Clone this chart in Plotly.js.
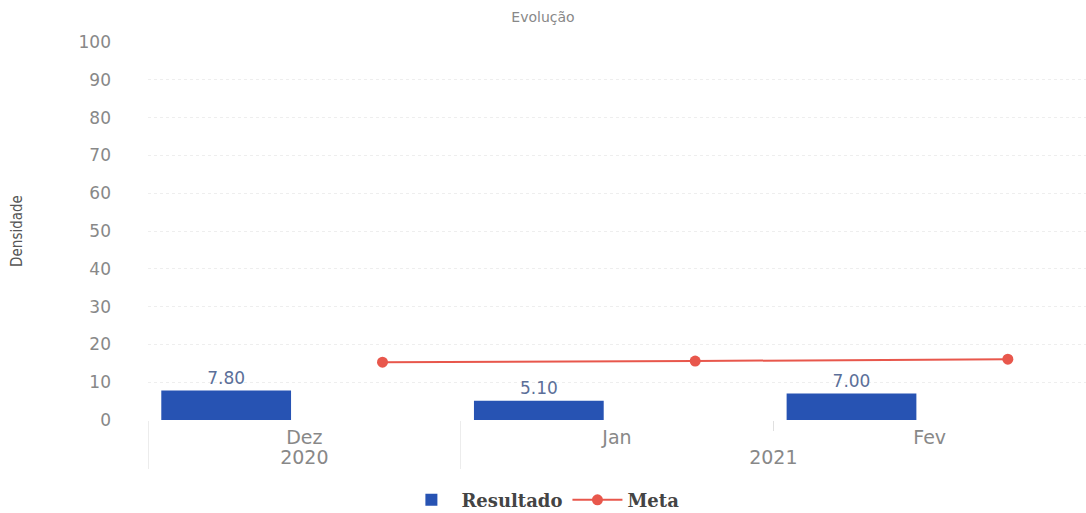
<!DOCTYPE html>
<html>
<head>
<meta charset="utf-8">
<script src="https://cdn.plot.ly/plotly-3.0.1.min.js"></script>
<style>html,body{margin:0;padding:0;background:#fff;}#chart{width:1086px;height:513px;}</style>
</head>
<body>
<div id="chart"></div>
<script>
const years = ["2020", "2021", "2021"];
const months = ["Dez", "Jan", "Fev"];
const resultado = [7.80, 5.10, 7.00];
const meta = [15.3, 15.6, 16.1];
const yTicks = [0, 10, 20, 30, 40, 50, 60, 70, 80, 90, 100];

const traces = [
  {
    type: "bar",
    name: "Resultado",
    x: [years, months],
    y: resultado,
    offsetgroup: "a",
    marker: {color: "#2753b3"},
    text: resultado.map(v => v.toFixed(2)),
    textposition: "outside",
    cliponaxis: false,
    textfont: {family: "DejaVu Sans", size: 17, color: "#5b6f99"}
  },
  {
    type: "scatter",
    mode: "lines+markers",
    name: "Meta",
    x: [years, months],
    y: meta,
    offsetgroup: "b",
    line: {color: "#e8574c", width: 2},
    marker: {color: "#e8574c", size: 11}
  }
];

const layout = {
  width: 1086, height: 513,
  margin: {l: 148, r: 0, t: 42, b: 93, autoexpand: false},
  paper_bgcolor: "#fff", plot_bgcolor: "#fff",
  barmode: "group", scattermode: "group",
  bargap: 0, bargroupgap: 0.17,
  title: {text: "Evolução", xref: "container", x: 0.5, xanchor: "center", y: 0.966, yanchor: "middle",
          font: {family: "DejaVu Sans", size: 14, color: "#888"}},
  showlegend: true,
  legend: {orientation: "h", x: 0.421, xanchor: "center", y: -0.212, yanchor: "middle",
           itemwidth: 50,
           font: {family: "DejaVu Serif", size: 18, color: "#444", weight: "bold"}},
  xaxis: {
    type: "multicategory",
    automargin: false,
    tickfont: {family: "DejaVu Sans", size: 19, color: "#888"},
    ticklabelstandoff: 4,
    showgrid: false, showline: false, zeroline: false,
    ticks: "outside", tickcolor: "#e0e0e0", ticklen: 10, showdividers: true, dividercolor: "#ececec"
  },
  yaxis: {
    range: [0, 100],
    automargin: false,
    tickvals: yTicks,
    ticktext: yTicks.map(String),
    tickfont: {family: "DejaVu Sans", size: 17, color: "#888"},
    ticklabelstandoff: 36,
    showgrid: true, gridcolor: "#eeeeee", griddash: "dot",
    zeroline: false, showline: false,
    title: {text: "Densidade", standoff: 52,
            font: {family: "Liberation Sans Narrow, DejaVu Sans Condensed", size: 15, color: "#555"}}
  }
};

Plotly.newPlot("chart", traces, layout, {displayModeBar: false, staticPlot: true});
</script>
</body>
</html>
